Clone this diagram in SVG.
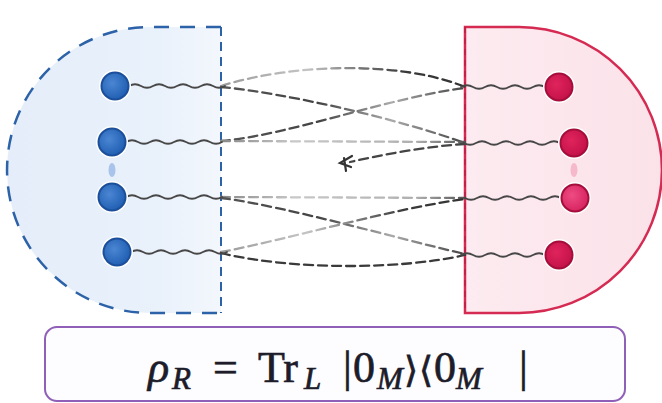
<svg xmlns="http://www.w3.org/2000/svg" width="662" height="403" viewBox="0 0 662 403">
<style>
.wave{fill:none;stroke:#474747;stroke-width:1.8;stroke-linecap:round}
.dash{fill:none;stroke-width:2.3;stroke-dasharray:9 5;stroke-linecap:round}
.nb{stroke:#1c4f9b;stroke-width:2}
.nr{stroke:#a50e3b;stroke-width:2}
.halo{fill:#fff}
.m{font-family:"Liberation Serif","DejaVu Serif",serif;fill:#1c1c2a;stroke:#1c1c2a;stroke-width:0.7}
.it{font-style:italic}
</style>
<defs>
<linearGradient id="fillL" x1="0" y1="0" x2="1" y2="0">
<stop offset="0" stop-color="#e4edf9"/>
<stop offset="0.7" stop-color="#e9f1fb"/>
<stop offset="1" stop-color="#f3f7fd"/>
</linearGradient>
<linearGradient id="fillR" x1="0" y1="0" x2="1" y2="0">
<stop offset="0" stop-color="#fcebf0"/>
<stop offset="1" stop-color="#fbe2e9"/>
</linearGradient>
<radialGradient id="gB" cx="0.4" cy="0.4" r="0.6">
<stop offset="0" stop-color="#4a86d2"/>
<stop offset="1" stop-color="#2260b4"/>
</radialGradient>
<radialGradient id="gR" cx="0.4" cy="0.4" r="0.6">
<stop offset="0" stop-color="#e0245c"/>
<stop offset="1" stop-color="#c5124a"/>
</radialGradient>
<radialGradient id="gR2" cx="0.4" cy="0.4" r="0.6">
<stop offset="0" stop-color="#ee4c82"/>
<stop offset="1" stop-color="#d82562"/>
</radialGradient>
<linearGradient id="dL" gradientUnits="userSpaceOnUse" x1="221" y1="0" x2="465" y2="0">
<stop offset="0" stop-color="#9a9a9a"/>
<stop offset="0.35" stop-color="#c4c4c4"/>
<stop offset="0.75" stop-color="#3a3a3a"/>
<stop offset="1" stop-color="#333"/>
</linearGradient>
<linearGradient id="dM" gradientUnits="userSpaceOnUse" x1="221" y1="0" x2="465" y2="0">
<stop offset="0" stop-color="#555"/>
<stop offset="0.4" stop-color="#444"/>
<stop offset="0.7" stop-color="#aaa"/>
<stop offset="1" stop-color="#444"/>
</linearGradient>
<linearGradient id="dF" gradientUnits="userSpaceOnUse" x1="221" y1="0" x2="465" y2="0">
<stop offset="0" stop-color="#888"/>
<stop offset="0.3" stop-color="#c8c8c8"/>
<stop offset="0.8" stop-color="#b0b0b0"/>
<stop offset="1" stop-color="#555"/>
</linearGradient>
</defs>
<rect width="662" height="403" fill="#fff"/>

<g id="region-left">
<path d="M221,27 L150,27 A143,143 0 0 0 150,313 L221,313 Z" fill="url(#fillL)"/>
<path d="M221,27 L150,27 A143,143 0 0 0 150,313 L221,313" fill="none" stroke="#2c62a8" stroke-width="2.5" stroke-dasharray="15 11"/>
<line x1="221" y1="27" x2="221" y2="313" stroke="#2c62a8" stroke-width="2" stroke-dasharray="9 6"/>
</g>
<g id="region-right">
<path d="M465,27 L519,27 A143,143 0 0 1 519,313 L465,313 Z" fill="url(#fillR)" stroke="#d52a52" stroke-width="2.5"/>
<line x1="465" y1="27" x2="465" y2="313" stroke="#b01840" stroke-width="1.5" stroke-dasharray="6 5" opacity="0.6"/>
</g>

<g id="connectors">
<path class="dash" stroke="url(#dL)" d="M221,86 C290,64 400,60 465,87"/>
<path class="dash" stroke="url(#dM)" d="M221,87 C285,93 395,118 465,143"/>
<path class="dash" stroke="url(#dM)" d="M221,141 C285,136 395,96 465,88"/>
<path class="dash" stroke="url(#dF)" d="M221,141 L465,142"/>
<path class="dash" stroke="#444" d="M465,144 C430,146 385,154 350,162"/>
<path d="M352,156 L340,163 L351,167 M344,158 L346,171" fill="none" stroke="#333" stroke-width="2.2" stroke-linecap="round"/>
<path class="dash" stroke="url(#dF)" d="M221,197 L465,198"/>
<path class="dash" stroke="url(#dM)" d="M221,198 C285,206 395,238 465,254"/>
<path class="dash" stroke="url(#dL)" d="M221,252 C285,240 395,208 465,199"/>
<path class="dash" stroke="#3a3a3a" d="M221,253 C290,270 400,270 465,255"/>
</g>

<g id="L1">
<path class="wave" d="M129,86 q6,-3.5 12,0 t12,0 t12,0 t12,0 t12,0 t12,0 t12,0 t12,0"/>
<circle cx="115" cy="86" r="16" class="halo"/>
<circle cx="115" cy="86" r="13.5" fill="url(#gB)" class="nb"/>
</g>
<g id="L2">
<path class="wave" d="M126,142 q6,-3.5 12,0 t12,0 t12,0 t12,0 t12,0 t12,0 t12,0 t12,0"/>
<circle cx="112" cy="142" r="16" class="halo"/>
<circle cx="112" cy="142" r="13.5" fill="url(#gB)" class="nb"/>
</g>
<g id="L3">
<path class="wave" d="M126,197 q6,-3.5 12,0 t12,0 t12,0 t12,0 t12,0 t12,0 t12,0 t12,0"/>
<circle cx="112" cy="197" r="16" class="halo"/>
<circle cx="112" cy="197" r="13.5" fill="url(#gB)" class="nb"/>
</g>
<g id="L4">
<path class="wave" d="M131,252 q6,-3.5 12,0 t12,0 t12,0 t12,0 t12,0 t12,0 t12,0 t12,0"/>
<circle cx="117" cy="252" r="16" class="halo"/>
<circle cx="117" cy="252" r="13.5" fill="url(#gB)" class="nb"/>
</g>
<ellipse id="L-link" cx="112" cy="170" rx="3.5" ry="7" fill="#a9c4ea"/>

<g id="R1">
<path class="wave" d="M545,87 q-6,-3.5 -12,0 t-12,0 t-12,0 t-12,0 t-12,0 t-12,0 t-12,0"/>
<circle cx="559" cy="87" r="16" class="halo"/>
<circle cx="559" cy="87" r="13.5" fill="url(#gR)" class="nr"/>
</g>
<g id="R2">
<path class="wave" d="M560,143 q-6,-3.5 -12,0 t-12,0 t-12,0 t-12,0 t-12,0 t-12,0 t-12,0 t-12,0"/>
<circle cx="574" cy="143" r="16" class="halo"/>
<circle cx="574" cy="143" r="13.5" fill="url(#gR)" class="nr"/>
</g>
<g id="R3">
<path class="wave" d="M561,198 q-6,-3.5 -12,0 t-12,0 t-12,0 t-12,0 t-12,0 t-12,0 t-12,0 t-12,0"/>
<circle cx="575" cy="198" r="16" class="halo"/>
<circle cx="575" cy="198" r="13.5" fill="url(#gR2)" class="nr"/>
</g>
<g id="R4">
<path class="wave" d="M545,255 q-6,-3.5 -12,0 t-12,0 t-12,0 t-12,0 t-12,0 t-12,0 t-12,0"/>
<circle cx="559" cy="255" r="16" class="halo"/>
<circle cx="559" cy="255" r="13.5" fill="url(#gR)" class="nr"/>
</g>
<ellipse id="R-link" cx="574" cy="170" rx="3.5" ry="7" fill="#f5b9cb"/>

<g id="formula">
<rect x="45" y="327" width="580" height="74" rx="12" fill="#fdfcff" stroke="#9060b8" stroke-width="2"/>
<text class="m it" x="148" y="382" font-size="44">ρ</text>
<text class="m it" x="172" y="389" font-size="31">R</text>
<text class="m" x="213" y="382" font-size="44">=</text>
<text class="m" x="258" y="382" font-size="44">Tr</text>
<text class="m it" x="304" y="389" font-size="31">L</text>
<text class="m" x="343" y="382" font-size="44">|</text>
<text class="m" x="353" y="382" font-size="44">0</text>
<text class="m it" x="377" y="389" font-size="31">M</text>
<text class="m" x="404" y="382" font-size="36">⟩</text>
<text class="m" x="419" y="382" font-size="36">⟨</text>
<text class="m" x="434" y="382" font-size="44">0</text>
<text class="m it" x="456" y="389" font-size="31">M</text>
<text class="m" x="519" y="382" font-size="44">|</text>
</g>
</svg>
